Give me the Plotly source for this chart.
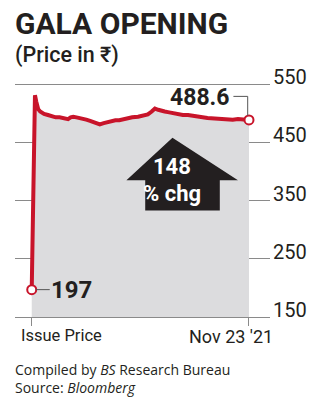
import plotly.graph_objects as go

# ---- data ----
issue_label = "Issue Price"
end_label = "Nov 23 '21"
issue_x = -5          # position of issue price point (before the session)
issue_price = 197
minutes = [0, 2, 5, 8, 10, 14, 20, 26, 32, 38, 44, 51, 55, 59, 64, 69, 74, 79, 85, 92,
           100, 106, 112, 118, 124, 130, 137, 143, 150, 159, 166, 174, 180, 185, 190,
           195, 200, 205, 212, 220, 228, 236, 246, 256, 266, 277, 287, 297, 305, 313,
           321, 330]
prices = [531, 520, 507, 503, 501, 499, 497, 495, 493, 493, 491, 490, 493, 494, 493,
          492, 491, 489, 487, 484, 481, 483, 485, 486, 488, 488, 490, 491, 493, 494,
          496, 498, 503, 508, 506, 504, 503, 502, 500, 498, 497, 497, 495, 494, 492,
          491, 490, 490, 489, 490, 489, 488.6]
pct_change = 148
y_ticks = [150, 250, 350, 450, 550]

xs = [issue_x] + minutes
ys = [issue_price] + prices
x_end, y_end = xs[-1], ys[-1]

RED = "#c8142a"
GRAY_FILL = "#dcdcde"
GRID = "#8a8a8a"
INK = "#231f20"
COND = "Roboto, sans-serif"

W, H = 322, 400
ML, MR, MT, MB = 15, 52, 83, 83
pw, ph = W - ML - MR, H - MT - MB
def px_to_paper(px, py):
    return (px - ML) / pw, (H - MB - py) / ph

fig = go.Figure()
# baseline for fill
fig.add_trace(go.Scatter(x=[issue_x, x_end], y=[y_ticks[0], y_ticks[0]], mode="lines",
                         line=dict(width=0, color=GRAY_FILL), hoverinfo="skip", showlegend=False))
fig.add_trace(go.Scatter(x=xs, y=ys, mode="lines", fill="tonexty", fillcolor=GRAY_FILL,
                         line=dict(color=RED, width=4), showlegend=False))
fig.add_trace(go.Scatter(x=[xs[0], x_end], y=[ys[0], y_end], mode="markers",
                         marker=dict(size=9, color="white", line=dict(color=RED, width=2)),
                         showlegend=False))

# arrow shape (decoration)
tip_y, head_y, body_y = 458, 385, 333
cx = 212
fig.add_shape(type="path", xref="x", yref="y",
              path=f"M {cx},{tip_y} L 313,{head_y} L 285,{head_y} L 285,{body_y} "
                   f"L 170,{body_y} L 170,{head_y} L 141,{head_y} Z",
              fillcolor=INK, line=dict(width=0))

# elbow connector for end label
fig.add_shape(type="path", xref="x", yref="y",
              path=f"M 306,529 L {x_end-2},529 L {x_end-2},{y_end+7}",
              line=dict(color="#555555", width=1))

ann = []
ann.append(dict(text=f"{pct_change}", x=cx, y=408, xref="x", yref="y", showarrow=False,
                font=dict(family=COND, size=22, color="white", weight="bold")))
ann.append(dict(text="% chg", x=cx, y=363, xref="x", yref="y", showarrow=False,
                font=dict(family=COND, size=22, color="white", weight="bold")))
ann.append(dict(text=f"{y_end}", x=303, y=527, xref="x", yref="y", xanchor="right",
                showarrow=False, font=dict(family=COND, size=23, color=INK, weight="bold")))
ann.append(dict(text=f"{issue_price}", x=xs[0], y=ys[0], xref="x", yref="y",
                showarrow=True, arrowhead=0, arrowwidth=1, arrowcolor="#555555",
                ax=40, ay=0, standoff=4, font=dict(family=COND, size=24, color=INK, weight="bold")))
ax0, ay0 = px_to_paper(19, 324)
ann.append(dict(text=issue_label, x=ax0, y=ay0, xref="paper", yref="paper", xanchor="left",
                yanchor="top", showarrow=False, font=dict(family=COND, size=16.5, color=INK)))
ax1, _ = px_to_paper(275, 324)
ann.append(dict(text=end_label, x=ax1, y=ay0, xref="paper", yref="paper", xanchor="right",
                yanchor="top", showarrow=False, font=dict(family=COND, size=18, color=INK)))
tx, ty = px_to_paper(13, 4)
ann.append(dict(text="GALA OPENING", x=tx, y=ty, xref="paper", yref="paper", xanchor="left",
                yanchor="top", showarrow=False,
                font=dict(family=COND, size=30, color=INK, weight="bold")))
sx, sy = px_to_paper(13, 40)
ann.append(dict(text="(Price in ₹)", x=sx, y=sy, xref="paper", yref="paper",
                xanchor="left", yanchor="top", showarrow=False,
                font=dict(family=COND, size=21.5, color=INK, weight=500)))
fx, fy = px_to_paper(13, 399)
ann.append(dict(text="Compiled by <i>BS</i> Research Bureau<br>Source: <i>Bloomberg</i>",
                x=fx, y=fy, xref="paper", yref="paper", xanchor="left", yanchor="bottom",
                align="left", showarrow=False,
                font=dict(family="Open Sans, sans-serif", size=14, color=INK)))

fig.update_layout(
    width=W, height=H, margin=dict(l=ML, r=MR, t=MT, b=MB),
    paper_bgcolor="white", plot_bgcolor="white", annotations=ann,
    xaxis=dict(range=[-30.8, 362.4], tickvals=[issue_x, x_end], showticklabels=False,
               ticks="outside", ticklen=8, tickcolor=GRID, tickwidth=1,
               showgrid=False, zeroline=False, showline=True, linecolor=GRID, linewidth=1,
               fixedrange=True),
    yaxis=dict(range=[150, 552], side="right", tickvals=y_ticks, showgrid=True,
               gridcolor=GRID, gridwidth=1, zeroline=False, showline=False,
               ticklabelposition="outside", ticklabelshift=-7, ticks="", ticklabelstandoff=2,
               tickfont=dict(family=COND, size=20, color=INK), fixedrange=True),
)
fig.write_html("out.html", config={"displayModeBar": False})
